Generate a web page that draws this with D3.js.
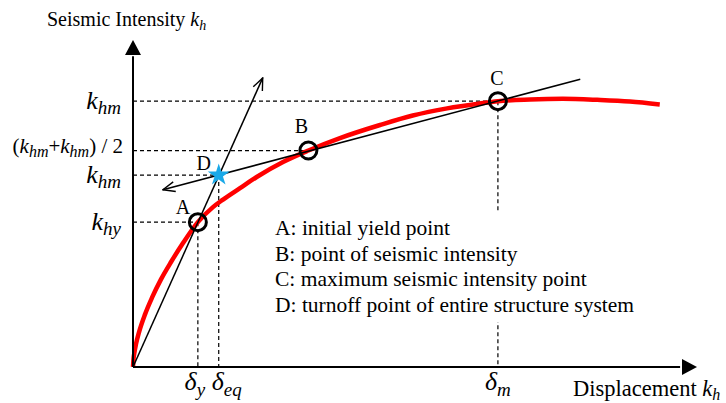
<!DOCTYPE html>
<html>
<head>
<meta charset="utf-8">
<script src="https://cdn.jsdelivr.net/npm/d3@7"></script>
</head>
<body style="margin:0;background:#fff">
<svg id="chart" width="726" height="403" style="display:block"></svg>
<script>
// Capacity curve: displacement vs seismic intensity (relative units)
const curveDisp = [0, 0.09, 0.27, 0.53, 1.06, 2.13, 3.37, 4.96, 6.74, 8.87, 11.5, 14.18, 15.96, 18.97, 21.93, 26.6, 31.1, 36.7, 43.8, 49.6, 55.7, 61.5, 64.7, 70.4, 76.2, 82.3, 88.1, 93.4];
const curveInt  = [0, 2.4, 4.6, 7.0, 10.6, 16.1, 21.2, 26.8, 32.1, 37.9, 44.3, 48.9, 51.2, 54.7, 58.1, 62.7, 66.2, 70.0, 74.0, 76.9, 79.1, 80.6, 81.3, 81.8, 82.0, 81.7, 81.2, 80.3];

// Characteristic points
const pointNames = ["A", "B", "C", "D"];
const pointDisp  = [11.5, 31.1, 64.7, 15.2];
const pointInt   = [44.3, 66.2, 81.3, 58.7];

// Secant lines (start / end)
const initialLine = [[0, 0], [23.0, 88.4]];
const secantLine  = [[5.3, 54.2], [79.3, 88.0]];

// Axis marker labels (and the point each guide runs to)
const yMarkerValues = [81.3, 66.2, 58.7, 44.3];
const yMarkerDisp   = [64.7, 31.1, 15.2, 11.5];
const yMarkerLabels = [
  [["k", "i"], ["hm", "s"]],
  [["(", ""], ["k", "i"], ["hm", "s"], ["+", ""], ["k", "i"], ["hm", "s"], [") / 2", ""]],
  [["k", "i"], ["hm", "s"]],
  [["k", "i"], ["hy", "s"]]
];
const xMarkerValues = [11.5, 15.2, 64.7];
const xMarkerInt    = [44.3, 58.7, 81.3];
const xMarkerLabels = [
  [["δ", "i"], ["y", "s"]],
  [["δ", "i"], ["eq", "s"]],
  [["δ", "i"], ["m", "s"]]
];

const legendLines = [
  "A: initial yield point",
  "B: point of seismic intensity",
  "C: maximum seismic intensity point",
  "D: turnoff point of entire structure system"
];

const FONT = '"Liberation Serif", "Times New Roman", Tinos, FreeSerif, "Nimbus Roman", serif';

const svg = d3.select("#chart").attr("font-family", FONT).style("font-family", FONT);
const x = d3.scaleLinear().domain([0, 100]).range([133, 697]);
const y = d3.scaleLinear().domain([0, 100]).range([367, 40]);

const defs = svg.append("defs");
defs.append("marker")
  .attr("id", "openArrow")
  .attr("viewBox", "0 0 14 12")
  .attr("refX", 13).attr("refY", 6)
  .attr("markerWidth", 14).attr("markerHeight", 12)
  .attr("markerUnits", "userSpaceOnUse")
  .attr("orient", "auto-start-reverse")
  .append("path")
  .attr("d", "M1,1 L13,6 L1,11")
  .attr("fill", "none").attr("stroke", "#000").attr("stroke-width", 1.4);

// write a label made of normal / italic / subscript pieces
function richText(sel, parts, size, subSize, subDy) {
  sel.attr("font-family", FONT).style("font-family", FONT).attr("fill", "#000");
  let shifted = false;
  parts.forEach(([t, kind]) => {
    const ts = sel.append("tspan").text(t);
    if (kind === "s") {
      ts.attr("font-size", subSize).attr("font-style", "italic");
      if (!shifted) { ts.attr("dy", subDy); shifted = true; }
    } else {
      ts.attr("font-size", size);
      if (kind === "i") ts.attr("font-style", "italic");
      if (shifted) { ts.attr("dy", -subDy); shifted = false; }
    }
  });
}

const dash = "4,3";

// horizontal guide lines
svg.append("g").selectAll("line").data(yMarkerValues).join("line")
  .attr("x1", x(0)).attr("x2", (d, i) => x(yMarkerDisp[i]))
  .attr("y1", d => y(d)).attr("y2", d => y(d))
  .attr("stroke", "#000").attr("stroke-width", 1.2).attr("stroke-dasharray", dash);

// vertical guide lines
svg.append("g").selectAll("line").data(xMarkerValues).join("line")
  .attr("x1", d => x(d)).attr("x2", d => x(d))
  .attr("y1", (d, i) => y(xMarkerInt[i])).attr("y2", y(0))
  .attr("stroke", "#000").attr("stroke-width", 1.2).attr("stroke-dasharray", dash);

// capacity curve
const line = d3.line().x((d, i) => x(curveDisp[i])).y((d, i) => y(curveInt[i]))
  .curve(d3.curveMonotoneX);
svg.append("path").datum(curveDisp).attr("d", line)
  .attr("fill", "none").attr("stroke", "#ff0000").attr("stroke-width", 4.5)
  .attr("stroke-linecap", "butt").attr("stroke-linejoin", "round");

// secant lines with open arrowheads
svg.append("line")
  .attr("x1", x(initialLine[0][0])).attr("y1", y(initialLine[0][1]))
  .attr("x2", x(initialLine[1][0])).attr("y2", y(initialLine[1][1]))
  .attr("stroke", "#000").attr("stroke-width", 1.5).attr("marker-end", "url(#openArrow)");
svg.append("line")
  .attr("x1", x(secantLine[0][0])).attr("y1", y(secantLine[0][1]))
  .attr("x2", x(secantLine[1][0])).attr("y2", y(secantLine[1][1]))
  .attr("stroke", "#000").attr("stroke-width", 1.5).attr("marker-start", "url(#openArrow)");

// axes
svg.append("line").attr("x1", x(0)).attr("y1", y(0)).attr("x2", x(0)).attr("y2", y(95))
  .attr("stroke", "#000").attr("stroke-width", 2);
svg.append("path").attr("d", `M${x(0)},${y(100)} L${x(0) - 8},${y(100) + 15} L${x(0) + 8},${y(100) + 15} Z`)
  .attr("fill", "#000");
svg.append("line").attr("x1", x(0)).attr("y1", y(0)).attr("x2", x(97)).attr("y2", y(0))
  .attr("stroke", "#000").attr("stroke-width", 2);
svg.append("path").attr("d", `M${x(100)},${y(0)} L${x(100) - 15},${y(0) - 8} L${x(100) - 15},${y(0) + 8} Z`)
  .attr("fill", "#000");

// legend block on a white panel
svg.append("rect").attr("x", 268).attr("y", 211).attr("width", 382).attr("height", 111).attr("fill", "#fff");
svg.append("g").selectAll("text").data(legendLines).join("text")
  .attr("x", 275).attr("y", (d, i) => 235 + i * 25.7)
  .attr("font-family", FONT).style("font-family", FONT).attr("font-size", 21.5).text(d => d);

// points A, B, C as circles, D as a star
pointNames.forEach((n, i) => {
  if (n === "D") return;
  svg.append("circle").attr("cx", x(pointDisp[i])).attr("cy", y(pointInt[i])).attr("r", 8.5)
    .attr("fill", "none").attr("stroke", "#000").attr("stroke-width", 3);
});
const di = pointNames.indexOf("D");
svg.append("path")
  .attr("d", d3.symbol().type(d3.symbolStar).size(150)())
  .attr("transform", `translate(${x(pointDisp[di])},${y(pointInt[di])})`)
  .attr("fill", "#1aa9e8");

// point letters
const letterOffset = { A: [-15, -8], B: [-7, -18], C: [-1, -16], D: [-15, -5] };
svg.append("g").selectAll("text").data(pointNames).join("text")
  .attr("x", (d, i) => x(pointDisp[i]) + letterOffset[d][0])
  .attr("y", (d, i) => y(pointInt[i]) + letterOffset[d][1])
  .attr("text-anchor", "middle")
  .attr("font-family", FONT).style("font-family", FONT).attr("font-size", 20).text(d => d);

// y marker labels
yMarkerLabels.forEach((parts, i) => {
  const half = parts.length > 2;
  const t = svg.append("text").attr("x", half ? 123 : 121)
    .attr("y", y(yMarkerValues[i]) + (half ? 2 : 8)).attr("text-anchor", "end");
  if (half) richText(t, parts, 21, 16, 4);
  else richText(t, parts, 26, 19, 5);
});

// x marker labels
const xShift = [-3, 8, 0];
xMarkerLabels.forEach((parts, i) => {
  const t = svg.append("text").attr("x", x(xMarkerValues[i]) + xShift[i]).attr("y", 390)
    .attr("text-anchor", "middle");
  richText(t, parts, 26, 19, 6);
});

// axis titles
const yTitle = svg.append("text").attr("x", 47).attr("y", 26);
richText(yTitle, [["Seismic Intensity ", ""], ["k", "i"], ["h", "s"]], 20, 14, 4);
const xTitle = svg.append("text").attr("x", 573).attr("y", 396);
richText(xTitle, [["Displacement ", ""], ["k", "i"], ["h", "s"]], 22.5, 16, 4);
</script>
</body>
</html>
